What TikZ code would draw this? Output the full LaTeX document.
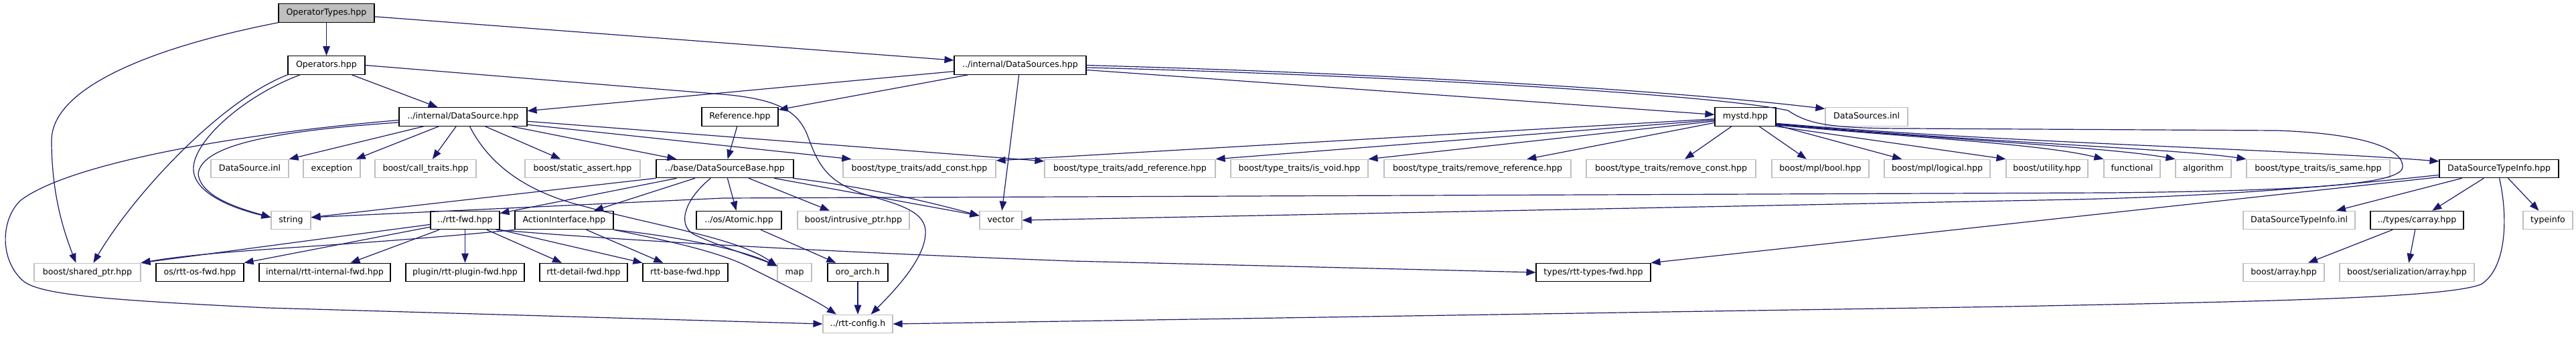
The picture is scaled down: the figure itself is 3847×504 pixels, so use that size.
\documentclass[tikz,border=0pt]{standalone}
\usepackage{fontspec}
\setmainfont{DejaVu Sans}
\usetikzlibrary{arrows.meta}
\definecolor{edgec}{HTML}{191970}
\definecolor{grayb}{HTML}{BFBFBF}
\begin{document}
\begin{tikzpicture}[x=1pt,y=-1pt,
  box/.style={rectangle, font=\fontsize{12.6}{15}\selectfont, inner sep=0pt,
    minimum height=27.5pt, text height=9.4pt, text depth=2.6pt, line width=1.1pt},
  doc/.style={box, draw=black},
  ext/.style={box, draw=grayb},
  root/.style={box, draw=black, fill=grayb},
  e/.style={draw=edgec, line width=1.2pt, -{Triangle[length=14pt,width=10.5pt]}}]
\useasboundingbox (0,0) rectangle (3847,504);
\fill[white] (0,0) rectangle (3847,504);
% row 0
\node[root, minimum width=143pt] (OT) at (487.5,19.5) {OperatorTypes.hpp};
% row 1
\node[doc, minimum width=115pt] (OP) at (487.5,97.5) {Operators.hpp};
\node[doc, minimum width=197pt] (DSS) at (1523.5,97.5) {../internal/DataSources.hpp};
% row 2
\node[doc, minimum width=191pt] (DS) at (691.5,174.5) {../internal/DataSource.hpp};
\node[doc, minimum width=114pt] (REF) at (1105,174.5) {Reference.hpp};
\node[doc, minimum width=91pt] (MS) at (2606.5,174.5) {mystd.hpp};
\node[ext, minimum width=123pt] (DSSinl) at (2787.5,174.5) {DataSources.inl};
% row 3
\node[ext, minimum width=116pt] (DSinl) at (373,252) {DataSource.inl};
\node[ext, minimum width=85pt] (exc) at (495.5,252) {exception};
\node[ext, minimum width=151pt] (call) at (635.5,252) {boost/call\_traits.hpp};
\node[ext, minimum width=172pt] (sa) at (870,252) {boost/static\_assert.hpp};
\node[doc, minimum width=205pt] (DSB) at (1082.5,252) {../base/DataSourceBase.hpp};
\node[ext, minimum width=228pt] (addc) at (1373,252) {boost/type\_traits/add\_const.hpp};
\node[ext, minimum width=255pt] (addr) at (1687.5,252) {boost/type\_traits/add\_reference.hpp};
\node[ext, minimum width=205pt] (isvoid) at (1940.5,252) {boost/type\_traits/is\_void.hpp};
\node[ext, minimum width=279pt] (remref) at (2206.5,252) {boost/type\_traits/remove\_reference.hpp};
\node[ext, minimum width=253pt] (remc) at (2495.5,252) {boost/type\_traits/remove\_const.hpp};
\node[ext, minimum width=145pt] (bool) at (2718.5,252) {boost/mpl/bool.hpp};
\node[ext, minimum width=158pt] (logical) at (2893,252) {boost/mpl/logical.hpp};
\node[ext, minimum width=122pt] (utility) at (3057,252) {boost/utility.hpp};
\node[ext, minimum width=84pt] (functional) at (3184,252) {functional};
\node[ext, minimum width=83pt] (algorithm) at (3290.5,252) {algorithm};
\node[ext, minimum width=214pt] (issame) at (3462,252) {boost/type\_traits/is\_same.hpp};
\node[doc, minimum width=178pt] (DSTI) at (3732,252) {DataSourceTypeInfo.hpp};
% row 4
\node[ext, minimum width=59pt] (string) at (434.5,329) {string};
\node[doc, minimum width=103pt] (RF) at (694.5,329) {../rtt-fwd.hpp};
\node[doc, minimum width=147pt] (AI) at (842.5,329) {ActionInterface.hpp};
\node[doc, minimum width=127pt] (Atomic) at (1103.5,329) {../os/Atomic.hpp};
\node[ext, minimum width=167pt] (intr) at (1274.5,329) {boost/intrusive\_ptr.hpp};
\node[ext, minimum width=63pt] (vector) at (1494.5,329) {vector};
\node[ext, minimum width=167pt] (DSTIinl) at (3433.5,329) {DataSourceTypeInfo.inl};
\node[doc, minimum width=139pt] (carray) at (3609.5,329) {../types/carray.hpp};
\node[ext, minimum width=74pt] (typeinfo) at (3805,329) {typeinfo};
% row 5
\node[ext, minimum width=159pt] (sp) at (130.5,407) {boost/shared\_ptr.hpp};
\node[doc, minimum width=131pt] (osfwd) at (298.5,407) {os/rtt-os-fwd.hpp};
\node[doc, minimum width=196pt] (intfwd) at (485,407) {internal/rtt-internal-fwd.hpp};
\node[doc, minimum width=177pt] (plugfwd) at (694.5,407) {plugin/rtt-plugin-fwd.hpp};
\node[doc, minimum width=131pt] (detfwd) at (871.5,407) {rtt-detail-fwd.hpp};
\node[doc, minimum width=127pt] (basefwd) at (1023.5,407) {rtt-base-fwd.hpp};
\node[ext, minimum width=51pt] (map) at (1186.5,407) {map};
\node[doc, minimum width=90pt] (oro) at (1281,407) {oro\_arch.h};
\node[doc, minimum width=171pt] (typesfwd) at (2379.5,407) {types/rtt-types-fwd.hpp};
\node[ext, minimum width=121pt] (barray) at (3410.5,407) {boost/array.hpp};
\node[ext, minimum width=201pt] (bser) at (3594.5,407) {boost/serialization/array.hpp};
% row 6
\node[ext, minimum width=104pt] (cfg) at (1281,484) {../rtt-config.h};

% ---- edges ----
% OperatorTypes
\draw[e] (OT) -- (OP);
\draw[e] (OT) -- (DSS);
\draw[e] (OT.south west) .. controls (230,70) and (77,130) .. (77,210) .. controls (77,290) and (95,345) .. (sp.140);
% Operators
\draw[e] (OP) -- (DS);
\draw[e] (OP.-160) .. controls (360,145) and (285,215) .. (289,255) .. controls (292,290) and (350,312) .. (string.172);
\draw[e] (OP.south west) .. controls (330,150) and (200,290) .. (sp.58);
\draw[e] (OP.east) -- (1080,141) .. controls (1160,148) and (1190,165) .. (1205,200) .. controls (1220,240) and (1230,270) .. (1290,290) .. controls (1340,305) and (1385,315) .. (1382,350) .. controls (1380,390) and (1330,440) .. (cfg.36);
% DataSources
\draw[e] (DSS) -- (DS);
\draw[e] (DSS) -- (REF);
\draw[e] (DSS) -- (vector);
\draw[e] (DSS) -- (MS);
\draw[e] (DSS.east) .. controls (2000,108) and (2450,130) .. (DSSinl.169);
\draw[e] (DSS.-2) .. controls (2050,112) and (2550,140) .. (2670,165) .. controls (2700,185) and (2730,192) .. (2850,192) -- (3400,195) .. controls (3540,200) and (3590,225) .. (3588,250) .. controls (3585,275) and (3450,285) .. (3150,288) -- (1080,296) -- (string.8);
% DataSource
\draw[e] (DS.185) .. controls (420,195) and (300,215) .. (296,260) .. controls (300,295) and (360,312) .. (string.172);
\draw[e] (DS.183) .. controls (350,200) and (100,245) .. (30,300) .. controls (0,330) and (0,390) .. (35,420) .. controls (60,440) and (150,448) .. (400,460) -- (cfg.west);
\draw[e] (DS) -- (DSinl);
\draw[e] (DS) -- (exc);
\draw[e] (DS) -- (call);
\draw[e] (DS) -- (sa);
\draw[e] (DS) -- (DSB);
\draw[e] (DS.-7) -- (addc.172);
\draw[e] (DS.-4) -- (addr.175);
\draw[e] (DS.-55) .. controls (725,235) and (770,280) .. (860,305) .. controls (980,338) and (1100,355) .. (map.160);
% Reference
\draw[e] (REF) -- (DSB);
% DataSourceBase
\draw[e] (DSB.south west) -- (string.8);
\draw[e] (DSB) -- (RF);
\draw[e] (DSB) -- (AI);
\draw[e] (DSB) -- (Atomic);
\draw[e] (DSB) -- (intr);
\draw[e] (DSB.-11) -- (vector.168);
\draw[e] (DSB.-8) .. controls (1300,280) and (1400,305) .. (vector.168);
\draw[e] (DSB.-146) .. controls (1020,300) and (1010,340) .. (1040,352) .. controls (1080,370) and (1130,385) .. (map.160);
% mystd
\draw[e] (MS.184) -- (addc.6);
\draw[e] (MS.186) -- (addr.north east);
\draw[e] (MS.188) -- (isvoid.north east);
\draw[e] (MS) -- (remref);
\draw[e] (MS) -- (remc);
\draw[e] (MS) -- (bool);
\draw[e] (MS) -- (logical);
\draw[e] (MS.south east) -- (utility.north west);
\draw[e] (MS.-15) .. controls (2850,205) and (3050,215) .. (functional.north west);
\draw[e] (MS.-14) .. controls (2900,208) and (3150,220) .. (algorithm.north west);
\draw[e] (MS.-13) .. controls (2950,212) and (3250,222) .. (issame.north west);
\draw[e] (MS.-12) .. controls (3000,214) and (3400,222) .. (DSTI.173);
% DataSourceTypeInfo
\draw[e] (DSTI) -- (DSTIinl);
\draw[e] (DSTI) -- (carray);
\draw[e] (DSTI) -- (typeinfo);
\draw[e] (DSTI.-88) .. controls (3745,320) and (3745,400) .. (3705,425) .. controls (3650,445) and (3400,450) .. (3000,458) -- (cfg.east);
\draw[e] (DSTI.186) .. controls (3450,282) and (3300,293) .. (3100,298) -- (vector.east);
\draw[e] (DSTI.188) -- (typesfwd.north east);
% carray
\draw[e] (carray) -- (barray);
\draw[e] (carray) -- (bser);
% Atomic, oro_arch
\draw[e] (Atomic) -- (oro);
\draw[e] (oro) -- (cfg);
% rtt-fwd
\draw[e] (RF.-173) -- (sp.north east);
\draw[e] (RF.-169) -- (osfwd.north east);
\draw[e] (RF) -- (intfwd);
\draw[e] (RF) -- (plugfwd);
\draw[e] (RF) -- (detfwd);
\draw[e] (RF.south east) -- (basefwd.north west);
\draw[e] (RF.-17) .. controls (900,357) and (1200,375) .. (1600,390) -- (typesfwd.west);
% ActionInterface
\draw[e] (AI.south west) .. controls (500,370) and (330,372) .. (sp.north east);
\draw[e] (AI) -- (basefwd);
\draw[e] (AI.south east) .. controls (1000,352) and (1100,370) .. (map.160);
\draw[e] (AI.south east) .. controls (1000,360) and (1080,378) .. (1120,400) .. controls (1170,425) and (1220,450) .. (cfg.156);
\end{tikzpicture}
\end{document}
